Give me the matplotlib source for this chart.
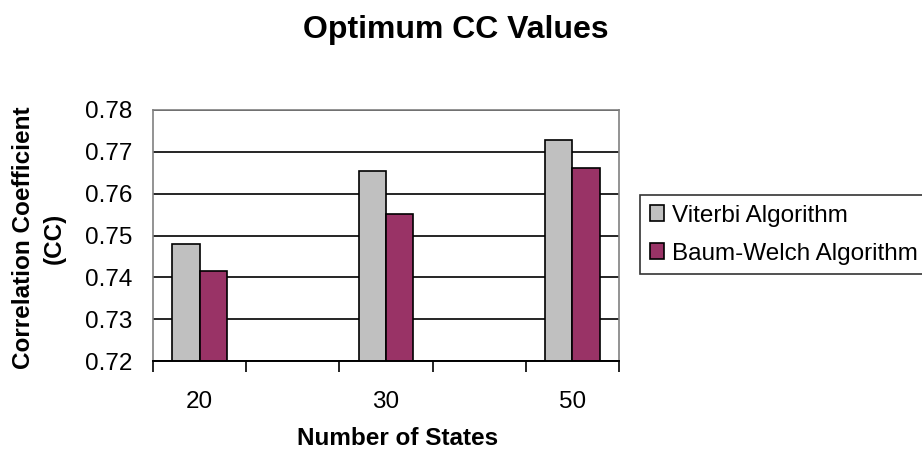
import numpy as np
import matplotlib.pyplot as plt

plt.rcParams['font.family'] = ['Liberation Sans', 'DejaVu Sans']

categories = ['20', '', '30', '', '50']
viterbi = [0.748, np.nan, 0.7653, np.nan, 0.7728]
baum_welch = [0.7415, np.nan, 0.7552, np.nan, 0.7662]
yticks = [0.72, 0.73, 0.74, 0.75, 0.76, 0.77, 0.78]

fig = plt.figure(figsize=(9.22, 4.57), dpi=100)
ax = fig.add_axes([153 / 922, 1 - 361 / 457, 466 / 922, 251 / 457])

x = np.arange(len(categories))
w = 0.295
ax.bar(x - w / 2, viterbi, w, color='#C0C0C0', edgecolor='black', linewidth=1.2,
       label='Viterbi Algorithm', zorder=3)
ax.bar(x + w / 2, baum_welch, w, color='#993366', edgecolor='black', linewidth=1.2,
       label='Baum-Welch Algorithm', zorder=3)

ax.set_ylim(0.72, 0.78)
ax.set_xlim(-0.5, len(categories) - 0.5)
ax.set_yticks(yticks)
ax.set_yticklabels([f'{v:.2f}' for v in yticks], fontsize=17.5)
ax.tick_params(axis='y', length=0, pad=15)
ax.set_xticks(x)
ax.set_xticklabels(categories, fontsize=17.5)
ax.tick_params(axis='x', which='major', length=0, pad=21.5)
ax.set_xticks(np.arange(-0.5, len(categories)), minor=True)
ax.tick_params(axis='x', which='minor', length=8, width=1.2, color='black')

ax.yaxis.grid(True, color='black', linewidth=1.2, zorder=1)
for s in ['top', 'left', 'right']:
    ax.spines[s].set_color('#808080')
    ax.spines[s].set_linewidth(1.2)
ax.spines['bottom'].set_color('black')
ax.spines['bottom'].set_linewidth(1.4)
ax.spines['bottom'].set_zorder(4)

fig.text(456 / 922, 1 - 38 / 457, 'Optimum CC Values', ha='center', va='baseline',
         fontsize=23, fontweight='bold')
fig.text(39 / 922, 1 - 238 / 457, 'Correlation Coefficient\n(CC)', ha='center', va='center',
         rotation=90, fontsize=17.5, fontweight='bold', multialignment='center', linespacing=1.45)
fig.text(398 / 922, 1 - 445 / 457, 'Number of States', ha='center', va='baseline',
         fontsize=17.5, fontweight='bold')

leg = fig.legend(loc='upper left', bbox_to_anchor=(640 / 922, 1 - 195 / 457), fontsize=17.5,
                 frameon=True, fancybox=False, edgecolor='black', borderaxespad=0,
                 handlelength=0.6, handleheight=0.6, handletextpad=0.3, labelspacing=0.65,
                 borderpad=0.4)
leg.get_frame().set_linewidth(1.2)

fig.savefig('out.png', dpi=100)
